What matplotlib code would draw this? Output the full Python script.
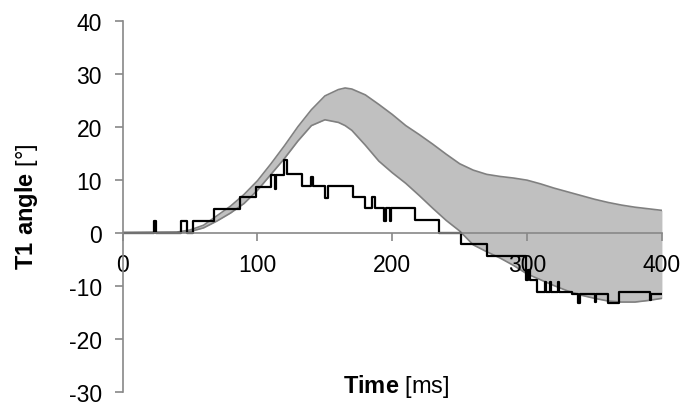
import matplotlib.pyplot as plt

plt.rcParams["font.family"] = "Liberation Sans"
plt.rcParams["font.size"] = 17
plt.rcParams["axes.unicode_minus"] = False
plt.rcParams["mathtext.fontset"] = "custom"
plt.rcParams["mathtext.rm"] = "Liberation Sans"
plt.rcParams["mathtext.bf"] = "Liberation Sans:bold"

# band (corridor), time in ms, angle in deg
band_t = [0, 40, 50, 60, 70, 80, 90, 100, 110, 120, 130, 140, 150, 160, 165, 170, 180,
          190, 200, 210, 220, 230, 240, 250, 260, 270, 280, 290, 300, 310, 320, 330,
          340, 350, 360, 370, 380, 390, 400]
band_upper = [0, 0.1, 0.5, 1.4, 3.2, 5.0, 7.2, 9.8, 13.0, 16.4, 20.0, 23.2, 25.8, 27.0,
              27.3, 27.1, 26.0, 24.2, 22.3, 20.2, 18.5, 16.7, 14.8, 13.0, 11.8, 11.0,
              10.6, 10.3, 9.9, 9.2, 8.4, 7.7, 7.0, 6.3, 5.7, 5.2, 4.8, 4.5, 4.2]
band_lower = [0, 0.0, 0.2, 0.9, 2.2, 3.7, 5.5, 8.0, 11.0, 14.0, 17.3, 20.2, 21.3, 20.8,
              20.2, 19.3, 16.5, 13.5, 11.3, 9.3, 7.0, 4.6, 2.3, 0.3, -2.3, -3.6,
              -4.8, -6.2, -7.8, -8.9, -10.0, -11.0, -11.8, -12.4, -12.9, -13.1, -13.1,
              -12.8, -12.4]

# measured T1 angle (step trace)
meas_t = [0, 23, 25, 43, 48, 52, 68, 87, 99, 110, 113, 114, 120, 122, 133, 140, 141,
          150, 152, 171, 180, 185, 187, 194, 195, 198, 199, 217, 235, 251, 270, 299,
          301, 302, 307, 313, 314, 317, 318, 323, 324, 333, 338, 339, 350, 351, 360,
          368, 391, 392, 400]
meas_v = [0, 2.2, 0, 2.2, 0, 2.2, 4.5, 6.7, 8.7, 10.9, 8.2, 10.9, 13.7, 11.0, 8.8,
          10.5, 8.8, 6.5, 8.8, 6.8, 4.6, 6.8, 4.6, 2.2, 4.6, 2.2, 4.6, 2.4, 0, -2.2,
          -4.4, -8.9, -7.0, -8.9, -11.2, -9.3, -11.2, -9.3, -11.2, -9.3, -11.2, -11.6,
          -13.3, -11.6, -13.0, -11.6, -13.3, -11.2, -12.8, -11.5, -11.5]

xticks = [0, 100, 200, 300, 400]
yticks = [-30, -20, -10, 0, 10, 20, 30, 40]

fig = plt.figure(figsize=(6.85, 4.06), dpi=100)
ax = fig.add_axes([0.1791, 0.033, 0.7872, 0.9136])

ax.fill_between(band_t, band_lower, band_upper, color="#c0c0c0", lw=0, zorder=1)
ax.plot(band_t, band_upper, color="#808080", lw=1.2, zorder=1.5)
ax.plot(band_t, band_lower, color="#808080", lw=1.2, zorder=1.5)
ax.plot(meas_t, meas_v, color="black", lw=1.6, drawstyle="steps-post", zorder=2)

ax.set_xlim(0, 400)
ax.set_ylim(-30, 40)
ax.set_xticks(xticks)
ax.set_yticks(yticks)

for s in ["top", "right"]:
    ax.spines[s].set_visible(False)
ax.spines["bottom"].set_position(("data", 0))
for s in ["left", "bottom"]:
    ax.spines[s].set_color("#888888")
    ax.spines[s].set_linewidth(1.2)
ax.tick_params(axis="both", direction="out", length=6, width=1.2, color="#888888",
               labelsize=16.5, pad=9)

fig.text(0.038, 0.491, r"$\bf{T1\ angle}$ [°]", rotation=90, ha="center", va="center",
         fontsize=17)
fig.text(0.578, 0.047, r"$\bf{Time}$ [ms]", ha="center", va="center", fontsize=17)

plt.savefig("out.png")
